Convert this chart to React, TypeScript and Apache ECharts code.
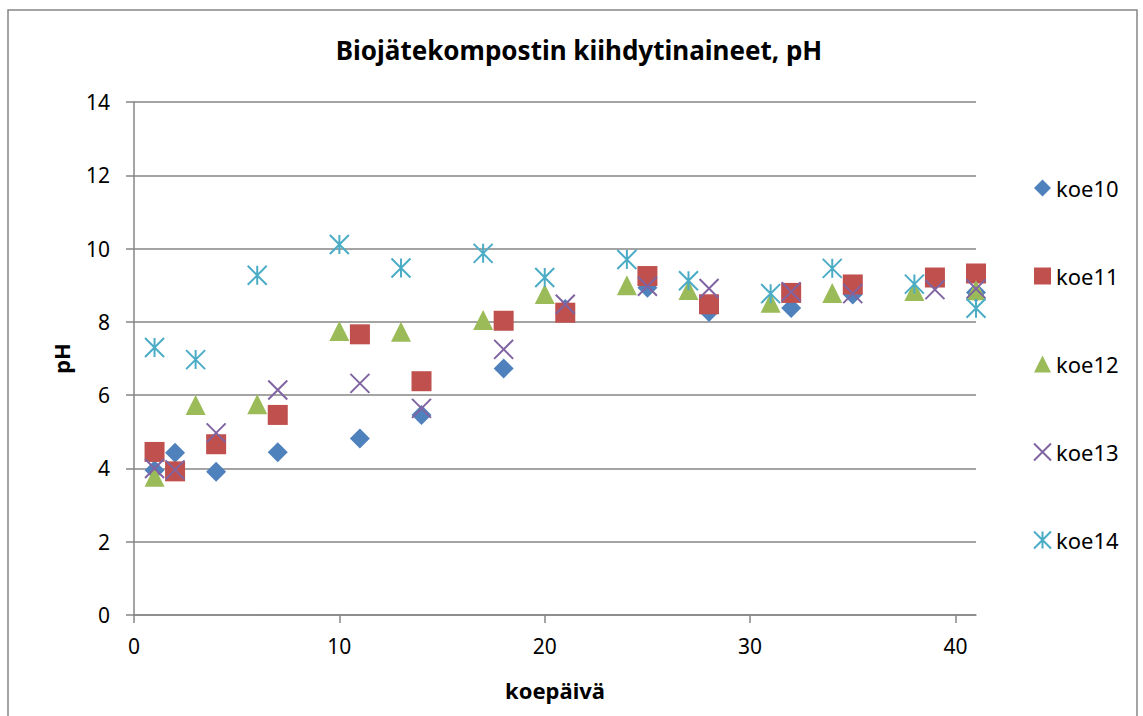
import React, { useEffect, useRef } from "react";
import * as echarts from "echarts";

// Sampling days and pH readings per trial
const daysA = [1, 2, 4, 7, 11, 14, 18, 21, 25, 28, 32, 35, 39, 41];
const daysB = [1, 3, 6, 10, 13, 17, 20, 24, 27, 31, 34, 38, 41];

const koe10 = [3.95, 4.43, 3.91, 4.44, 4.82, 5.46, 6.73, 8.35, 8.93, 8.27, 8.38, 8.75, 9.15, 8.8];
const koe11 = [4.45, 3.92, 4.66, 5.46, 7.66, 6.38, 8.03, 8.25, 9.25, 8.48, 8.79, 9.02, 9.21, 9.32];
const koe12 = [3.77, 5.73, 5.75, 7.75, 7.73, 8.05, 8.76, 9.0, 8.87, 8.52, 8.79, 8.84, 8.86];
const koe13 = [4.0, 3.96, 4.97, 6.14, 6.32, 5.64, 7.25, 8.48, 8.97, 8.91, 8.82, 8.77, 8.88, 8.9];
const koe14 = [7.3, 6.97, 9.27, 10.11, 9.47, 9.87, 9.21, 9.7, 9.12, 8.77, 9.46, 9.03, 8.37];

const xTicks = [0, 10, 20, 30, 40];

const FONT = "'Noto Sans', 'Open Sans', sans-serif";
const AXIS_GRAY = "#868686";

const pair = (days: number[], vals: number[]) => days.map((d, i) => [d, vals[i]]);

export default function App() {
  const ref = useRef<HTMLDivElement>(null);

  useEffect(() => {
    if (!ref.current) return;
    const chart = echarts.init(ref.current, null, { renderer: "svg" });

    const cross = "path://M0,0L20,20M20,0L0,20";
    const star = "path://M0,0L20,20M20,0L0,20M10,0L10,20";

    chart.setOption({
      animation: false,
      backgroundColor: "#ffffff",
      textStyle: { fontFamily: FONT, color: "#000" },
      title: {
        text: "Biojätekompostin kiihdytinaineet, pH",
        left: 574,
        textAlign: "center",
        top: 32,
        textStyle: { fontFamily: FONT, fontSize: 26, fontWeight: "bold", color: "#000" },
      },
      graphic: [
        {
          type: "rect",
          shape: { x: 8, y: 10, width: 1129, height: 730 },
          style: { fill: "none", stroke: AXIS_GRAY, lineWidth: 1.5 },
          silent: true,
          z: -1,
        },
      ],
      grid: { left: 134, right: 167, top: 102, bottom: 101, containLabel: false },
      legend: {
        orient: "vertical",
        left: 1028,
        top: 172,
        itemWidth: 17,
        itemHeight: 17,
        itemGap: 66,
        textStyle: { fontFamily: FONT, fontSize: 22, color: "#000" },
        data: ["koe10", "koe11", "koe12", "koe13", "koe14"],
      },
      xAxis: {
        type: "value",
        min: 0,
        max: 41,
        interval: 10,
        name: "koepäivä",
        nameLocation: "middle",
        nameGap: 64,
        nameTextStyle: { fontFamily: FONT, fontSize: 22, fontWeight: "bold", color: "#000" },
        axisLine: { show: true, onZero: false, lineStyle: { color: AXIS_GRAY, width: 1.5 } },
        axisTick: { show: true, length: 8, customValues: xTicks, lineStyle: { color: AXIS_GRAY, width: 1.5 } },
        axisLabel: { customValues: xTicks, margin: 20, fontSize: 21, fontFamily: FONT, color: "#000" },
        splitLine: { show: false },
      },
      yAxis: {
        type: "value",
        min: 0,
        max: 14,
        interval: 2,
        name: "pH",
        nameLocation: "middle",
        nameRotate: 90,
        nameGap: 62,
        nameTextStyle: { fontFamily: FONT, fontSize: 22, fontWeight: "bold", color: "#000" },
        axisLine: { show: true, lineStyle: { color: AXIS_GRAY, width: 1.5 } },
        axisTick: { show: true, length: 8, lineStyle: { color: AXIS_GRAY, width: 1.5 } },
        axisLabel: { margin: 24, fontSize: 21, fontFamily: FONT, color: "#000" },
        splitLine: { show: true, lineStyle: { color: AXIS_GRAY, width: 1.5 } },
      },
      series: [
        {
          name: "koe10",
          type: "scatter",
          symbol: "diamond",
          symbolSize: 20,
          itemStyle: { color: "#4F81BD", opacity: 1 },
          data: pair(daysA, koe10),
        },
        {
          name: "koe11",
          type: "scatter",
          symbol: "rect",
          symbolSize: 20,
          itemStyle: { color: "#C0504D", opacity: 1 },
          data: pair(daysA, koe11),
        },
        {
          name: "koe12",
          type: "scatter",
          symbol: "triangle",
          symbolSize: 20,
          itemStyle: { color: "#9BBB59", opacity: 1 },
          data: pair(daysB, koe12),
        },
        {
          name: "koe13",
          type: "scatter",
          symbol: cross,
          symbolSize: 19,
          itemStyle: { color: "transparent", borderColor: "#8064A2", borderWidth: 2, opacity: 1 },
          data: pair(daysA, koe13),
        },
        {
          name: "koe14",
          type: "scatter",
          symbol: star,
          symbolSize: 19,
          itemStyle: { color: "transparent", borderColor: "#4BACC6", borderWidth: 2, opacity: 1 },
          data: pair(daysB, koe14),
        },
      ],
    });

    return () => chart.dispose();
  }, []);

  return (
    <div
      ref={ref}
      style={{ position: "fixed", left: 0, top: 0, width: 1143, height: 716 }}
    />
  );
}
